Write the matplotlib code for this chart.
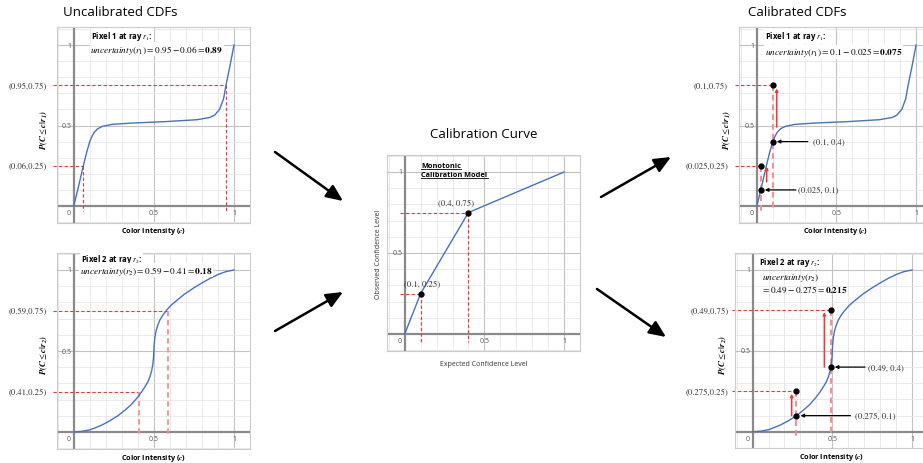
import numpy as np
import matplotlib
matplotlib.use('Agg')
import matplotlib.pyplot as plt
from matplotlib.lines import Line2D

W, H = 923, 464
plt.rcParams['mathtext.fontset'] = 'stix'
plt.rcParams['font.family'] = ['Open Sans', 'DejaVu Sans']

# ---------------- data ----------------
cdf1_c = [0, 0.025, 0.06, 0.08, 0.1, 0.115, 0.13, 0.15, 0.18, 0.24, 0.36, 0.57,
          0.77, 0.85, 0.88, 0.91, 0.935, 0.95, 0.975, 1.0]
cdf1_p = [0, 0.1, 0.25, 0.33, 0.4, 0.435, 0.46, 0.48, 0.495, 0.507, 0.515, 0.524,
          0.536, 0.55, 0.565, 0.6, 0.665, 0.75, 0.87, 1.0]
cdf2_c = [0, 0.05, 0.1, 0.17, 0.22, 0.275, 0.32, 0.36, 0.395, 0.422, 0.445, 0.463,
          0.477, 0.487, 0.494, 0.498, 0.5, 0.502, 0.506, 0.513, 0.523, 0.537, 0.555,
          0.578, 0.605, 0.64, 0.69, 0.75, 0.8, 0.85, 0.9, 0.95, 1.0]
cdf2_p = [0, 0.004, 0.013, 0.04, 0.066, 0.1, 0.135, 0.17, 0.21, 0.245, 0.28, 0.31,
          0.345, 0.38, 0.42, 0.46, 0.5, 0.54, 0.58, 0.62, 0.655, 0.69, 0.72,
          0.75, 0.78, 0.81, 0.85, 0.89, 0.92, 0.948, 0.972, 0.99, 1.0]
calib_expected = [0, 0.1, 0.4, 1.0]
calib_observed = [0, 0.25, 0.75, 1.0]

tick_values = [0.5, 1]
tick_labels = ['0.5', '1']

uncal1_c = [0.06, 0.95]
uncal1_p = [0.25, 0.75]
uncal1_labels = ['(0.06,0.25)', '(0.95,0.75)']
uncal2_c = [0.41, 0.59]
uncal2_p = [0.25, 0.75]
uncal2_labels = ['(0.41,0.25)', '(0.59,0.75)']

calib_pt_c = [0.1, 0.4]
calib_pt_p = [0.25, 0.75]
calib_pt_labels = ['(0.1, 0.25)', '(0.4, 0.75)']

cal1_c = [0.025, 0.1]
cal1_target = [0.25, 0.75]
cal1_orig = [0.1, 0.4]
cal1_target_labels = ['(0.025,0.25)', '(0.1,0.75)']
cal1_orig_labels = ['(0.025, 0.1)', '(0.1, 0.4)']

cal2_c = [0.275, 0.49]
cal2_target = [0.25, 0.75]
cal2_orig = [0.1, 0.4]
cal2_target_labels = ['(0.275,0.25)', '(0.49,0.75)']
cal2_orig_labels = ['(0.275, 0.1)', '(0.49, 0.4)']

# ---------------- styles ----------------
BLUE = '#4472c4'
RED = '#ff3030'
PINK = '#ff8c8c'
TICK_C = '#555555'
SERIF_FS = 6.2
UNC_FS = 6.7
PIX_FS = 5.6

fig = plt.figure(figsize=(W / 100, H / 100), dpi=100)


def make_ax(left, top, w, h, ox, x1, oy, y1):
    ax = fig.add_axes([left / W, 1 - (top + h) / H, w / W, h / H])
    sx = x1 - ox
    sy = oy - y1
    ax.set_xlim((left - ox) / sx, (left + w - ox) / sx)
    ax.set_ylim((oy - top - h) / sy, (oy - top) / sy)
    ax.set_xticks(tick_values)
    ax.set_yticks(tick_values)
    minor = [v for v in np.round(np.arange(-0.1, 1.11, 0.1), 2) if v not in (0, 0.5, 1.0)]
    ax.set_xticks(minor, minor=True)
    ax.set_yticks(minor, minor=True)
    ax.tick_params(which='both', length=0, labelbottom=False, labelleft=False)
    ax.grid(which='major', color='#c2c2c2', lw=0.8)
    ax.grid(which='minor', color='#e6e6e6', lw=0.6)
    ax.set_axisbelow(True)
    ax.axhline(0, color='#8a8a8a', lw=1.6, zorder=1)
    ax.axvline(0, color='#8a8a8a', lw=1.6, zorder=1)
    for s in ax.spines.values():
        s.set_color('#cccccc')
        s.set_linewidth(0.8)
    ax.text(-0.03, -0.04, '0', ha='center', va='center', fontsize=5, color=TICK_C)
    for v, lab in zip(tick_values, tick_labels):
        ax.text(v, -0.04, lab, ha='center', va='center', fontsize=5, color=TICK_C)
        ax.text(-0.012, v, lab, ha='right', va='center', fontsize=5, color=TICK_C)
    return ax


def cdf_labels(ax, ylabel):
    ax.text(0.5, -0.155, r'Color Intensity ($\mathbfit{c}$)', transform=ax.get_yaxis_transform(),
            ha='center', va='center', fontsize=5.2, fontweight='bold', clip_on=False)
    ax.text(-0.185, 0.48, ylabel, ha='center', va='center', rotation=90,
            fontsize=6.3, clip_on=False)


def box_text(ax, x, y, s, **kw):
    ax.text(x, y, s, ha='left', va='center', zorder=4,
            bbox=dict(facecolor='white', edgecolor='none', pad=0.3), **kw)


def serif(ax, x, y, s, ha, clip=False):
    ax.text(x, y, s, ha=ha, va='center', fontsize=SERIF_FS,
            family='STIXGeneral', color='#333333', clip_on=clip)


# ---------- Top-left: uncalibrated pixel 1 ----------
ax1 = make_ax(57, 28, 193, 196, 74, 237, 207, 46)
ax1.plot(cdf1_c, cdf1_p, color=BLUE, lw=1.0, zorder=3)
for c, p, lab in zip(uncal1_c, uncal1_p, uncal1_labels):
    ax1.plot([-0.13, c], [p, p], color=RED, lw=0.8, dashes=(3, 2), clip_on=False, zorder=2)
    ax1.plot([c, c], [p, -0.03], color=RED, lw=0.8, dashes=(3, 2), clip_on=False, zorder=2)
    serif(ax1, -0.165, p, lab, 'right')
box_text(ax1, 0.11, 1.056, r'Pixel 1 at ray $r_1$:', fontsize=PIX_FS, fontweight='bold')
box_text(ax1, 0.104, 0.975, r'$uncertainty(r_1) = 0.95 - 0.06 = \mathbf{0.89}$', fontsize=UNC_FS)
cdf_labels(ax1, r'$\mathbfit{P(C} \leq \mathbfit{c|r_1)}$')

# ---------- Bottom-left: uncalibrated pixel 2 ----------
ax2 = make_ax(57, 254, 193, 196, 74, 237, 433, 271)
ax2.plot(cdf2_c, cdf2_p, color=BLUE, lw=1.0, zorder=3)
for c, p, lab in zip(uncal2_c, uncal2_p, uncal2_labels):
    ax2.plot([-0.13, c], [p, p], color=RED, lw=0.8, dashes=(3, 2), clip_on=False, zorder=2)
    ax2.plot([c, c], [p, -0.03], color=PINK, lw=1.3, dashes=(3, 2), clip_on=False, zorder=2)
    serif(ax2, -0.165, p, lab, 'right')
box_text(ax2, 0.043, 1.072, r'Pixel 2 at ray $r_2$:', fontsize=PIX_FS, fontweight='bold')
box_text(ax2, 0.037, 0.998, r'$uncertainty(r_2) = 0.59 - 0.41 = \mathbf{0.18}$', fontsize=UNC_FS)
cdf_labels(ax2, r'$\mathbfit{P(C} \leq \mathbfit{c|r_2)}$')

# ---------- Middle: calibration curve ----------
axm = make_ax(387, 156, 193, 196, 405, 567, 335, 173)
axm.plot(calib_expected, calib_observed, color=BLUE, lw=1.0, zorder=3)
for c, p, lab, dx in zip(calib_pt_c, calib_pt_p, calib_pt_labels, [0.01, -0.08]):
    axm.plot([-0.03, c], [p, p], color=RED, lw=0.8, dashes=(3, 2), zorder=2)
    axm.plot([c, c], [p, -0.05], color=RED, lw=0.8, dashes=(3, 2), zorder=2)
    axm.plot(c, p, 'o', color='black', ms=3.5, zorder=5)
    serif(axm, c + dx, p + 0.065, lab, 'center')
t1 = axm.text(0.105, 1.04, 'Monotonic', ha='left', va='center', fontsize=5.3, fontweight='bold')
t2 = axm.text(0.105, 0.985, 'Calibration Model', ha='left', va='center', fontsize=5.3, fontweight='bold')
axm.text(0.5, 1.235, 'Calibration Curve', transform=axm.get_yaxis_transform(),
         ha='center', va='center', fontsize=9.5, clip_on=False)
axm.text(0.5, -0.185, 'Expected Confidence Level', transform=axm.get_yaxis_transform(),
         ha='center', va='center', fontsize=5, color='#333333', clip_on=False)
axm.text(-0.167, 0.5, 'Observed Confidence Level', ha='center', va='center', rotation=90,
         fontsize=5, color='#333333', clip_on=False)

# ---------- Top-right: calibrated pixel 1 ----------
ax3 = make_ax(739, 28, 193, 196, 757, 918, 207, 46)
ax3.plot(cdf1_c, cdf1_p, color=BLUE, lw=1.0, zorder=3)
for c, pt, po, lt in zip(cal1_c, cal1_target, cal1_orig, cal1_target_labels):
    ax3.plot([-0.137, c], [pt, pt], color=RED, lw=0.8, dashes=(3, 2), clip_on=False, zorder=2)
    ax3.plot([c, c], [pt, -0.03], color=PINK, lw=1.4, dashes=(3, 2), clip_on=False, zorder=2)
    ax3.plot([c, c], [pt, po], 'o', color='black', ms=3.5, zorder=5, lw=0)
    serif(ax3, -0.18, pt, lt, 'right')
for x, y0, y1 in [(0.062, 0.15, 0.245), (0.125, 0.49, 0.73)]:
    ax3.annotate('', xy=(x, y1), xytext=(x, y0),
                 arrowprops=dict(arrowstyle='-|>', color=RED, lw=1.1, mutation_scale=4,
                                 shrinkA=0, shrinkB=0))
for c, po, lab, xt, xl in zip(cal1_c, cal1_orig, cal1_orig_labels, [0.245, 0.32], [0.26, 0.35]):
    ax3.annotate('', xy=(c + 0.025, po), xytext=(xt, po),
                 arrowprops=dict(arrowstyle='-|>', color='black', lw=0.9, mutation_scale=5,
                                 shrinkA=0, shrinkB=0))
    serif(ax3, xl, po, lab, 'left')
box_text(ax3, 0.05, 1.056, r'Pixel 1 at ray $r_1$:', fontsize=PIX_FS, fontweight='bold')
box_text(ax3, 0.05, 0.957, r'$uncertainty(r_1) = 0.1 - 0.025 = \mathbf{0.075}$', fontsize=UNC_FS)
cdf_labels(ax3, r'$\mathbfit{P(C} \leq \mathbfit{c|r_1)}$')

# ---------- Bottom-right: calibrated pixel 2 ----------
ax4 = make_ax(735, 254, 193, 195, 753, 916, 433, 271)
ax4.plot(cdf2_c, cdf2_p, color=BLUE, lw=1.0, zorder=3)
for c, pt, po, lt in zip(cal2_c, cal2_target, cal2_orig, cal2_target_labels):
    ax4.plot([-0.13, c], [pt, pt], color=RED, lw=0.8, dashes=(3, 2), clip_on=False, zorder=2)
    ax4.plot([c, c], [pt, -0.03], color=PINK, lw=1.4, dashes=(3, 2), clip_on=False, zorder=2)
    ax4.plot([c, c], [pt, po], 'o', color='black', ms=3.5, zorder=5, lw=0)
    serif(ax4, -0.15, pt, lt, 'right')
for x, y0, y1 in [(0.245, 0.10, 0.235), (0.45, 0.40, 0.74)]:
    ax4.annotate('', xy=(x, y1), xytext=(x, y0),
                 arrowprops=dict(arrowstyle='-|>', color=RED, lw=1.1, mutation_scale=4,
                                 shrinkA=0, shrinkB=0))
for c, po, lab, xt, xl in zip(cal2_c, cal2_orig, cal2_orig_labels, [0.613, 0.705], [0.64, 0.725]):
    ax4.annotate('', xy=(c + 0.025, po), xytext=(xt, po),
                 arrowprops=dict(arrowstyle='-|>', color='black', lw=0.9, mutation_scale=5,
                                 shrinkA=0, shrinkB=0))
    serif(ax4, xl, po, lab, 'left')
box_text(ax4, 0.037, 1.05, r'Pixel 2 at ray $r_2$:', fontsize=PIX_FS, fontweight='bold')
ax4.text(0.06, 0.955, r'$uncertainty(r_2)$', ha='left', va='center', fontsize=UNC_FS, zorder=4)
ax4.text(0.055, 0.885, r'$= 0.49 - 0.275 = \mathbf{0.215}$', ha='left', va='center',
         fontsize=UNC_FS, zorder=4)
cdf_labels(ax4, r'$\mathbfit{P(C} \leq \mathbfit{c|r_2)}$')

# ---------- group titles and big arrows (overlay in pixel coords) ----------
ov = fig.add_axes([0, 0, 1, 1], zorder=-5)
ov.set_xlim(0, W)
ov.set_ylim(H, 0)
ov.axis('off')
ov.text(120, 12, 'Uncalibrated CDFs', ha='center', va='center', fontsize=9.5)
ov.text(797, 12, 'Calibrated CDFs', ha='center', va='center', fontsize=9.5)
for (xa, ya), (xb, yb) in [((275, 153), (343, 202)), ((275, 332), (343, 293)),
                           ((601, 198), (671, 158)), ((597, 290), (666, 338))]:
    ov.annotate('', xy=(xb, yb), xytext=(xa, ya),
                arrowprops=dict(arrowstyle='-|>,head_length=0.5,head_width=0.22',
                                color='black', lw=1.8, mutation_scale=20,
                                shrinkA=0, shrinkB=0))

# underline for the calibration model label
fig.canvas.draw()
r = fig.canvas.get_renderer()
for t in (t1, t2):
    bb = t.get_window_extent(renderer=r)
    fig.add_artist(Line2D([bb.x0, bb.x1], [bb.y0 + 0.3, bb.y0 + 0.3], transform=None,
                          color='black', lw=0.6))

fig.savefig('out.png', dpi=100)
